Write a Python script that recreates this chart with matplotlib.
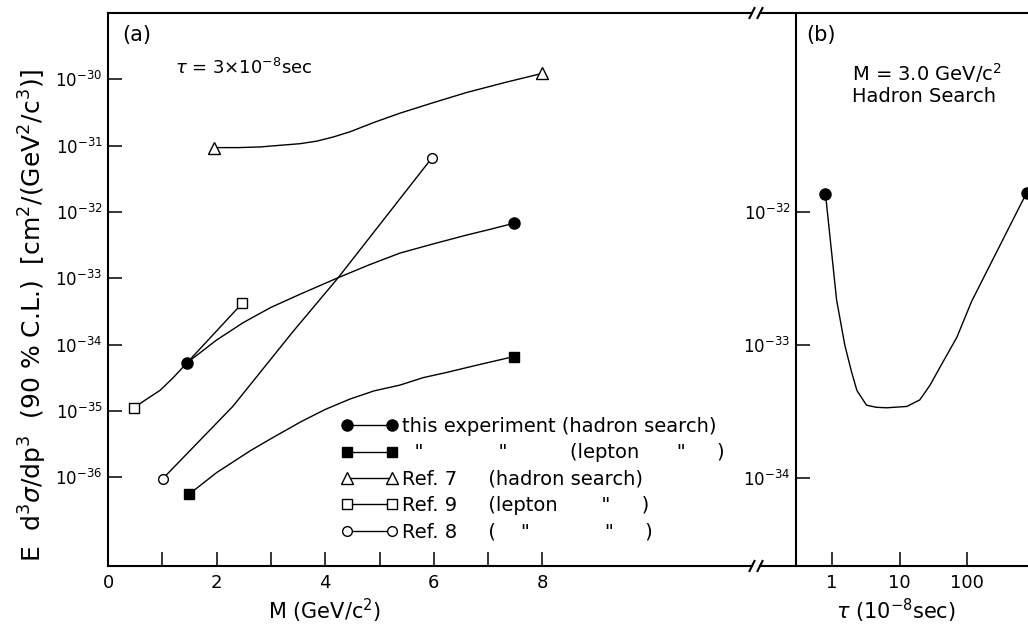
"""Upper limits on E d3sigma/dp3 versus mass (a) and lifetime (b)."""

import matplotlib
matplotlib.use("Agg")
import matplotlib.pyplot as plt  # noqa: E402
import numpy as np  # noqa: E402
from matplotlib.lines import Line2D  # noqa: E402
from matplotlib.ticker import NullLocator  # noqa: E402

plt.rcParams["font.family"] = ["DejaVu Sans"]
plt.rcParams["mathtext.fontset"] = "dejavusans"

# ---- panel (a): limits vs mass, tau = 3e-8 sec ----
# this experiment, hadron search (filled circles)
had_m = np.array([1.45, 2.0, 2.49, 3.0, 3.54, 4.24, 4.8, 5.38, 6.0, 6.6,
                  7.0, 7.48])
had_sig = np.array([5.25e-35, 1.17e-34, 2.14e-34, 3.63e-34, 5.75e-34,
                    1.02e-33, 1.58e-33, 2.4e-33, 3.31e-33, 4.47e-33,
                    5.37e-33, 6.76e-33])
# this experiment, lepton search (filled squares)
lep_m = np.array([1.49, 2.0, 2.62, 3.0, 3.54, 4.0, 4.46, 4.9, 5.38, 5.8,
                  6.24, 6.8, 7.48])
lep_sig = np.array([5.5e-37, 1.17e-36, 2.5e-36, 3.8e-36, 6.76e-36, 1.05e-35,
                    1.51e-35, 2.0e-35, 2.45e-35, 3.16e-35, 3.8e-35, 4.9e-35,
                    6.6e-35])
# Ref. 7, hadron search (open triangles)
ref7_m = np.array([1.95, 2.4, 2.8, 3.1, 3.54, 3.85, 4.15, 4.46, 4.9, 5.38,
                   6.0, 6.6, 7.3, 8.0])
ref7_sig = np.array([9.33e-32, 9.33e-32, 9.55e-32, 1.0e-31, 1.07e-31,
                     1.17e-31, 1.35e-31, 1.62e-31, 2.24e-31, 3.09e-31,
                     4.47e-31, 6.31e-31, 8.91e-31, 1.23e-30])
# Ref. 9, lepton search (open squares)
ref9_m = np.array([0.48, 0.7, 0.96, 1.2, 1.45, 2.47])
ref9_sig = np.array([1.12e-35, 1.48e-35, 2.04e-35, 3.16e-35, 5.25e-35,
                     4.17e-34])
# Ref. 8, lepton search (open circles)
ref8_m = np.array([1.01, 2.3, 3.41, 4.24, 5.97])
ref8_sig = np.array([9.5e-37, 1.17e-35, 1.58e-34, 1.02e-33, 6.6e-32])

# ---- panel (b): limit vs lifetime, M = 3.0 GeV/c^2 hadron search ----
tau_b = np.array([0.80, 1.17, 1.55, 1.95, 2.34, 3.24, 4.5, 6.46, 12.9, 20.0,
                  28.2, 44.7, 70.8, 117.0, 767.0])
sig_b = np.array([1.38e-32, 2.19e-33, 1.0e-33, 6.3e-34, 4.57e-34, 3.55e-34,
                  3.42e-34, 3.39e-34, 3.47e-34, 3.89e-34, 5.0e-34, 7.6e-34,
                  1.15e-33, 2.14e-33, 1.41e-32])

legend_labels = [
    "this experiment (hadron search)",
    '  "            "          (lepton      "     )',
    "Ref. 7     (hadron search)",
    'Ref. 9     (lepton       "     )',
    'Ref. 8     (    "            "     )',
]

W, H = 1028, 629
fig = plt.figure(figsize=(W / 100, H / 100), dpi=100)
ax_a = fig.add_axes([108 / W, 1 - 566 / H, 644 / W, 553 / H])
ax_b = fig.add_axes([760 / W, 1 - 566 / H, 268 / W, 553 / H])

LW = 1.0
SP = 1.5
style = dict(color="black", lw=LW)

# panel (a) curves and end markers
series = [
    (had_m, had_sig, dict(marker="o", ms=8, mfc="black")),
    (lep_m, lep_sig, dict(marker="s", ms=7, mfc="black")),
    (ref7_m, ref7_sig, dict(marker="^", ms=8, mfc="white", mew=1.0)),
    (ref9_m, ref9_sig, dict(marker="s", ms=7, mfc="white", mew=1.0)),
    (ref8_m, ref8_sig, dict(marker="o", ms=7, mfc="white", mew=1.0)),
]
handles = []
for m, s, mk in series:
    ax_a.plot(m, s, **style)
    ax_a.plot(m[[0, -1]], s[[0, -1]], ls="none", mec="black", zorder=3, **mk)
    handles.append(Line2D([], [], mec="black", **style, **mk))

ax_a.set_yscale("log")
ax_a.set_xlim(0, 11.86)
ax_a.set_ylim(10 ** -37.34, 10 ** -29.0)
ax_a.set_yticks([10.0 ** e for e in range(-36, -29)])
ax_a.yaxis.set_minor_locator(NullLocator())
ax_a.set_xticks(range(0, 9))
ax_a.set_xticklabels(["0", "", "2", "", "4", "", "6", "", "8"])
ax_a.spines["right"].set_visible(False)

# panel (b)
ax_b.plot(tau_b, sig_b, **style)
ax_b.plot(tau_b[[0, -1]], sig_b[[0, -1]], ls="none", marker="o", ms=8,
          color="black")
ax_b.set_xscale("log")
ax_b.set_yscale("log")
ax_b.set_xlim(10 ** -1.067, 10 ** 2.904)
ax_b.set_ylim(10 ** -34.66, 10 ** -30.5)
ax_b.set_xticks([1, 10, 100])
ax_b.set_xticklabels(["1", "10", "100"])
ax_b.set_yticks([1e-34, 1e-33, 1e-32])
ax_b.xaxis.set_minor_locator(NullLocator())
ax_b.yaxis.set_minor_locator(NullLocator())
ax_b.spines["right"].set_visible(False)
ax_b.spines["left"].set_position(("axes", (796 - 760) / 268))

for ax in (ax_a, ax_b):
    for sp in ax.spines.values():
        sp.set_linewidth(SP)
    ax.tick_params(which="major", direction="in", length=10, width=1.1)
    ax.tick_params(axis="x", labelsize=13, pad=6)
    ax.tick_params(axis="y", labelsize=12, pad=4)

# broken axis marks
d = dict(color="black", lw=SP, clip_on=False)
for ax, x0, wpx in ((ax_a, 1.0, 644), (ax_b, 0.0, 268)):
    dx = 5 / wpx
    dy = 5 / 553
    for y0 in (0.0, 1.0):
        ax.plot([x0 - dx / 2, x0 + dx / 2], [y0 - dy, y0 + dy],
                transform=ax.transAxes, **d)

# labels
ax_a.set_xlabel(r"M (GeV/c$^{2}$)", fontsize=15)
ax_a.xaxis.set_label_coords((325 - 108) / 644, (566 - 597) / 553)
ax_b.set_xlabel(r"$\tau$ (10$^{-8}$sec)", fontsize=15)
ax_b.xaxis.set_label_coords((896 - 760) / 268, (566 - 597) / 553)
fig.text(33 / W, 1 - 315 / H,
         r"E  d$^{3}\sigma$/dp$^{3}$  (90 % C.L.)  [cm$^{2}$/(GeV$^{2}$/c$^{3}$)]",
         rotation=90, ha="center", va="center", fontsize=18)

fig.text(122 / W, 1 - 35 / H, "(a)", fontsize=15, va="center")
fig.text(175 / W, 1 - 68 / H, r"$\tau$ = 3$\times$10$^{-8}$sec", fontsize=13,
         va="center")
fig.text(806 / W, 1 - 35 / H, "(b)", fontsize=15, va="center")
fig.text(852 / W, 1 - 73 / H, r"M = 3.0 GeV/c$^{2}$", fontsize=14, va="center")
fig.text(852 / W, 1 - 96 / H, "Hadron Search", fontsize=14, va="center")

ax_a.legend(handles, legend_labels, loc="upper left",
            bbox_to_anchor=((341 - 108) / 644, (566 - 417) / 553),
            frameon=False, fontsize=14, handlelength=2.9, handletextpad=0.26,
            labelspacing=0.38, borderpad=0, borderaxespad=0, numpoints=2)

fig.savefig("out.png", dpi=100)
plt.close(fig)
